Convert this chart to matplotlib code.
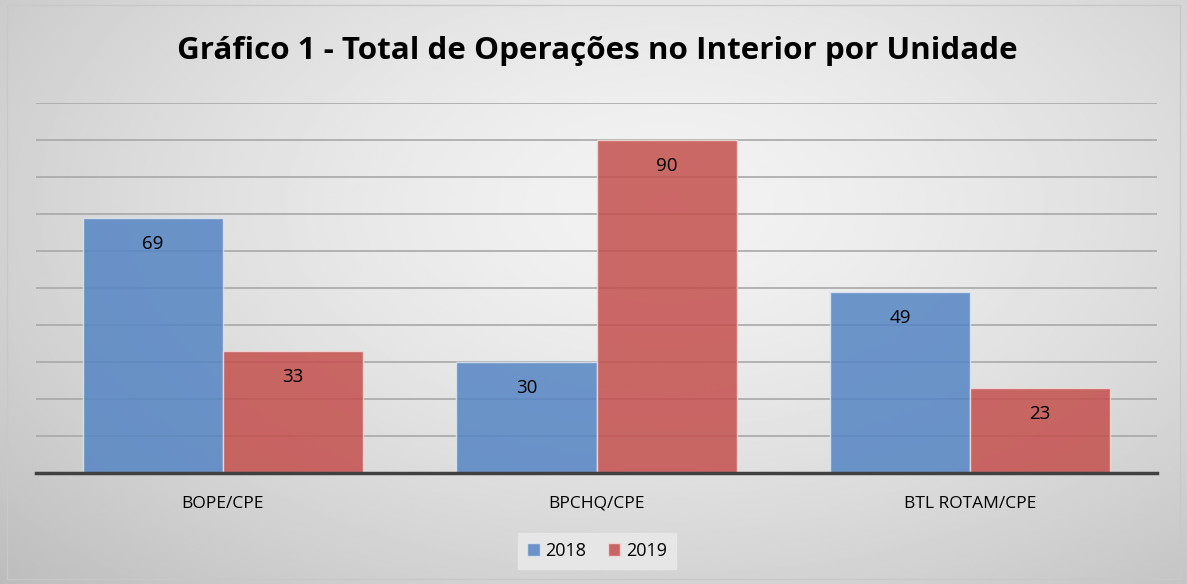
import numpy as np
import matplotlib
matplotlib.use("Agg")
import matplotlib.pyplot as plt
from matplotlib.patches import Rectangle

# data
categorias = ["BOPE/CPE", "BPCHQ/CPE", "BTL ROTAM/CPE"]
anos = ["2018", "2019"]
valores_2018 = [69, 30, 49]
valores_2019 = [33, 90, 23]
titulo = "Gráfico 1 - Total de Operações no Interior por Unidade"

azul = "#5585c4"
vermelho = "#c4504e"

plt.rcParams['font.family'] = ["Open Sans", "DejaVu Sans"]

fig = plt.figure(figsize=(11.87, 5.84), dpi=100)

# gray radial gradient background
bg = fig.add_axes([0, 0, 1, 1])
yy, xx = np.mgrid[0:1:300j, 0:1:600j]
r = np.sqrt(((xx - 0.56) / 0.75) ** 2 + ((yy - 0.35) / 0.9) ** 2)
grad = 0.95 - 0.2 * np.clip(r, 0, 1.2) ** 1.5
bg.imshow(grad, cmap="gray", vmin=0, vmax=1, aspect="auto", extent=[0, 1, 1, 0])
bg.set_xlim(0, 1)
bg.set_ylim(1, 0)
bg.axis("off")
bg.add_patch(Rectangle((0.006, 0.008), 0.988, 0.984, fill=False, ec="#c8c8c8", lw=1))

ax = fig.add_axes([36 / 1187, 111 / 584, 1121 / 1187, 370 / 584])
ax.patch.set_alpha(0)

x = np.arange(len(categorias))
w = 0.375
ax.set_ylim(0, 100)
ax.set_xlim(-0.5, len(categorias) - 0.5)
ax.set_yticks(np.arange(10, 101, 10))
ax.yaxis.grid(True, color="#a8a8a8", lw=1.2)
ax.set_axisbelow(True)

b1 = ax.bar(x - w / 2, valores_2018, w, color=azul, alpha=0.85, edgecolor="#dce6f2", lw=1, label=anos[0])
b2 = ax.bar(x + w / 2, valores_2019, w, color=vermelho, alpha=0.85, edgecolor="#f2dcdb", lw=1, label=anos[1])

for bars in (b1, b2):
    for b in bars:
        ax.annotate(str(int(b.get_height())), (b.get_x() + b.get_width() / 2, b.get_height()),
                    xytext=(0, -26), textcoords="offset pixels",
                    ha="center", va="center", fontsize=13.5, color="black")

for s in ["left", "right", "top"]:
    ax.spines[s].set_visible(False)
ax.spines["bottom"].set_color("#404040")
ax.spines["bottom"].set_linewidth(2.5)
ax.tick_params(axis="y", left=False, labelleft=False)
ax.tick_params(axis="x", bottom=False, pad=13)
ax.set_xticks(x)
ax.set_xticklabels(categorias, fontsize=12.5)

fig.text(597 / 1187, 1 - 51 / 584, titulo, ha="center", va="center", fontsize=22.6, fontweight="bold")

leg = fig.legend(loc="center", bbox_to_anchor=(597 / 1187, 1 - 551 / 584), ncol=2, frameon=True,
                 fontsize=13, handlelength=0.7, handleheight=0.7, handletextpad=0.3, columnspacing=1.2,
                 fancybox=False, borderpad=0.5)
leg.get_frame().set_facecolor("#e6e6e6")
leg.get_frame().set_edgecolor("#e6e6e6")
leg.get_frame().set_alpha(1)

fig.savefig("out.png", dpi=100)
